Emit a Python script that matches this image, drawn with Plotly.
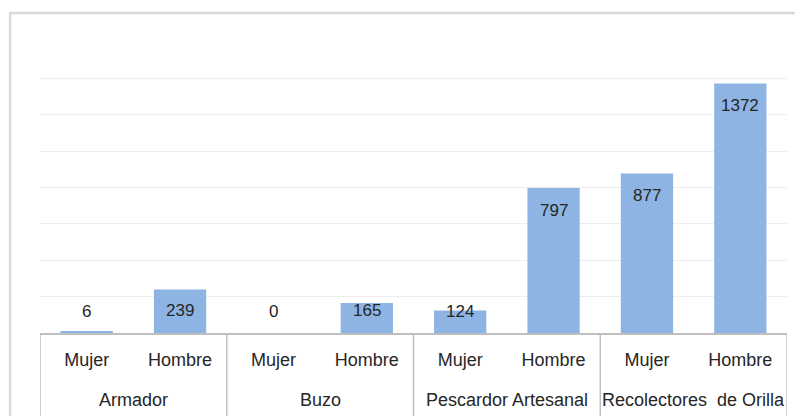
import plotly.graph_objects as go

# datos
grupos = ["Armador", "Buzo", "Pescardor Artesanal", "Recolectores  de Orilla"]
sexos = ["Mujer", "Hombre"]
valores = [6, 239, 0, 165, 124, 797, 877, 1372]

BAR_COLOR = "#8db4e2"
LINE_COLOR = "#bfbfbf"
AXIS_FONT = dict(family="Liberation Sans, Arial, sans-serif", size=18, color="#262626")
LABEL_FONT = dict(family="Liberation Sans, Arial, sans-serif", size=17, color="#262626")

# la pagina tiene 8px de margen en el body
W, H = 795, 408
M = dict(l=32, r=16, t=34, b=83)
Y_MAX = 1600
px_por_unidad = (H - M["t"] - M["b"]) / Y_MAX

n = len(valores)
xs = list(range(n))
ticktext = [sexos[i % 2] for i in xs]

fig = go.Figure(go.Bar(
    x=xs,
    y=valores,
    marker=dict(color=BAR_COLOR, line=dict(width=0)),
    width=0.56,
    hoverinfo="x+y",
))

# etiquetas de datos estilo Excel (extremo interior, sin bajar del eje)
for x, v in zip(xs, valores):
    shift = max(-22, 22 - v * px_por_unidad)
    fig.add_annotation(x=x, y=v, text=str(v), showarrow=False,
                       yanchor="middle", yshift=shift, font=LABEL_FONT)

# etiquetas de grupo
for g, nombre in enumerate(grupos):
    fig.add_annotation(x=2 * g + 0.5, y=0, yref="paper", text=nombre,
                       showarrow=False, yanchor="middle", yshift=-67,
                       font=AXIS_FONT)

# divisores del eje de categorias
for g in range(len(grupos) + 1):
    fig.add_shape(type="line", xref="x", yref="paper",
                  x0=2 * g - 0.5, x1=2 * g - 0.5, y0=0, y1=-0.3,
                  line=dict(color=LINE_COLOR, width=1.5))

# marco exterior
fig.add_shape(type="rect", xref="paper", yref="paper",
              x0=-0.040, x1=1.1, y0=-0.5, y1=1.1,
              line=dict(color="#d9d9d9", width=2.5), layer="below")

fig.update_layout(
    width=W,
    height=H,
    margin=M,
    plot_bgcolor="white",
    paper_bgcolor="white",
    showlegend=False,
    xaxis=dict(
        range=[-0.5, n - 0.5],
        tickvals=xs,
        ticktext=ticktext,
        tickfont=AXIS_FONT,
        showgrid=False,
        zeroline=False,
        showline=True,
        linecolor=LINE_COLOR,
        linewidth=1.5,
        ticks="outside",
        ticklen=10,
        tickcolor="rgba(0,0,0,0)",
        fixedrange=True,
    ),
    yaxis=dict(
        range=[0, Y_MAX],
        dtick=200,
        showticklabels=False,
        showgrid=True,
        gridcolor="#eeeeee",
        gridwidth=1,
        zeroline=False,
        showline=False,
        fixedrange=True,
    ),
)

fig.write_html("out.html")
